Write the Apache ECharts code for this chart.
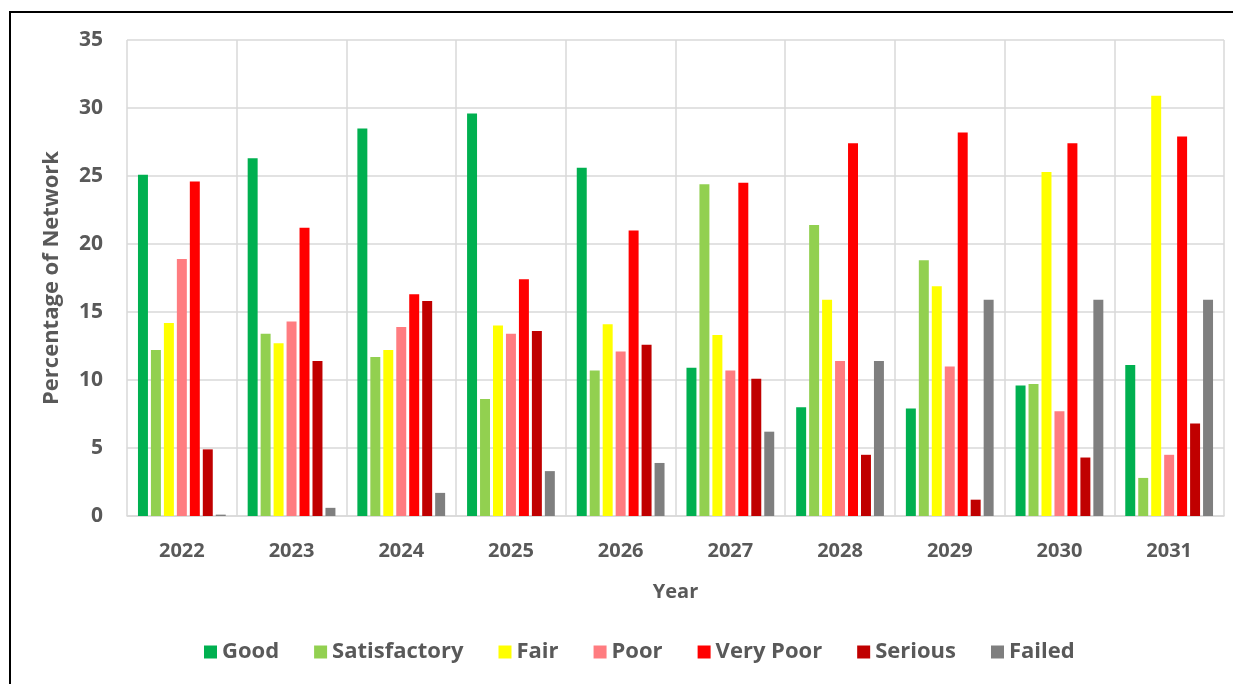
<!DOCTYPE html>
<html><head><meta charset="utf-8">
<script src="https://cdn.jsdelivr.net/npm/echarts@6/dist/echarts.min.js"></script>
<style>
html,body{margin:0;padding:0;background:#fff;}
#frame{position:absolute;left:9px;top:11px;width:1240px;height:700px;border:2px solid #000;box-sizing:border-box;}
#c{position:absolute;left:0;top:0;width:1233px;height:684px;}
</style></head>
<body>
<div id="frame"></div>
<div id="c"></div>
<script>
const years = ['2022','2023','2024','2025','2026','2027','2028','2029','2030','2031'];
const good         = [25.1, 26.3, 28.5, 29.6, 25.6, 10.9, 8.0, 7.9, 9.6, 11.1];
const satisfactory = [12.2, 13.4, 11.7, 8.6, 10.7, 24.4, 21.4, 18.8, 9.7, 2.8];
const fair         = [14.2, 12.7, 12.2, 14.0, 14.1, 13.3, 15.9, 16.9, 25.3, 30.9];
const poor         = [18.9, 14.3, 13.9, 13.4, 12.1, 10.7, 11.4, 11.0, 7.7, 4.5];
const veryPoor     = [24.6, 21.2, 16.3, 17.4, 21.0, 24.5, 27.4, 28.2, 27.4, 27.9];
const serious      = [4.9, 11.4, 15.8, 13.6, 12.6, 10.1, 4.5, 1.2, 4.3, 6.8];
const failed       = [0.1, 0.6, 1.7, 3.3, 3.9, 6.2, 11.4, 15.9, 15.9, 15.9];
const seriesNames  = ['Good','Satisfactory','Fair','Poor','Very Poor','Serious','Failed'];
const seriesData   = [good, satisfactory, fair, poor, veryPoor, serious, failed];
const colors = ['#00b050','#92d050','#ffff00','#ff7c80','#ff0000','#c00000','#7f7f7f'];
const font = 'Open Sans';
const chart = echarts.init(document.getElementById('c'));
chart.setOption({
  animation:false,
  color: colors,
  grid:{left:127,right:9,top:40,bottom:168},
  legend:{
    bottom:16, left:199,
    itemWidth:13,itemHeight:13,itemGap:35,
    icon:'rect',
    textStyle:{fontFamily:font,fontWeight:'bold',fontSize:22,color:'#595959'},
    data: seriesNames
  },
  xAxis:{
    type:'category', data:years,
    name:'Year', nameLocation:'middle', nameGap:66,
    nameTextStyle:{fontFamily:font,fontWeight:'bold',fontSize:20,color:'#595959'},
    axisLine:{lineStyle:{color:'#d9d9d9',width:1.5}},
    axisTick:{show:false},
    axisLabel:{fontFamily:font,fontWeight:'bold',fontSize:20,color:'#595959',margin:25},
    splitLine:{show:true,lineStyle:{color:'#d9d9d9',width:1.5}}
  },
  yAxis:{
    type:'value', min:0, max:35, interval:5,
    name:'Percentage of Network', nameLocation:'middle', nameGap:64, nameRotate:90,
    nameTextStyle:{fontFamily:font,fontWeight:'bold',fontSize:22,color:'#595959'},
    axisLine:{show:false}, axisTick:{show:false},
    axisLabel:{fontFamily:font,fontWeight:'bold',fontSize:21,color:'#595959',margin:24},
    splitLine:{lineStyle:{color:'#d9d9d9',width:1.5}}
  },
  series: seriesNames.map((n,i)=>({
    name:n, type:'bar', data:seriesData[i],
    barGap:'30%', barCategoryGap:'20%'
  }))
});
</script>
</body></html>
